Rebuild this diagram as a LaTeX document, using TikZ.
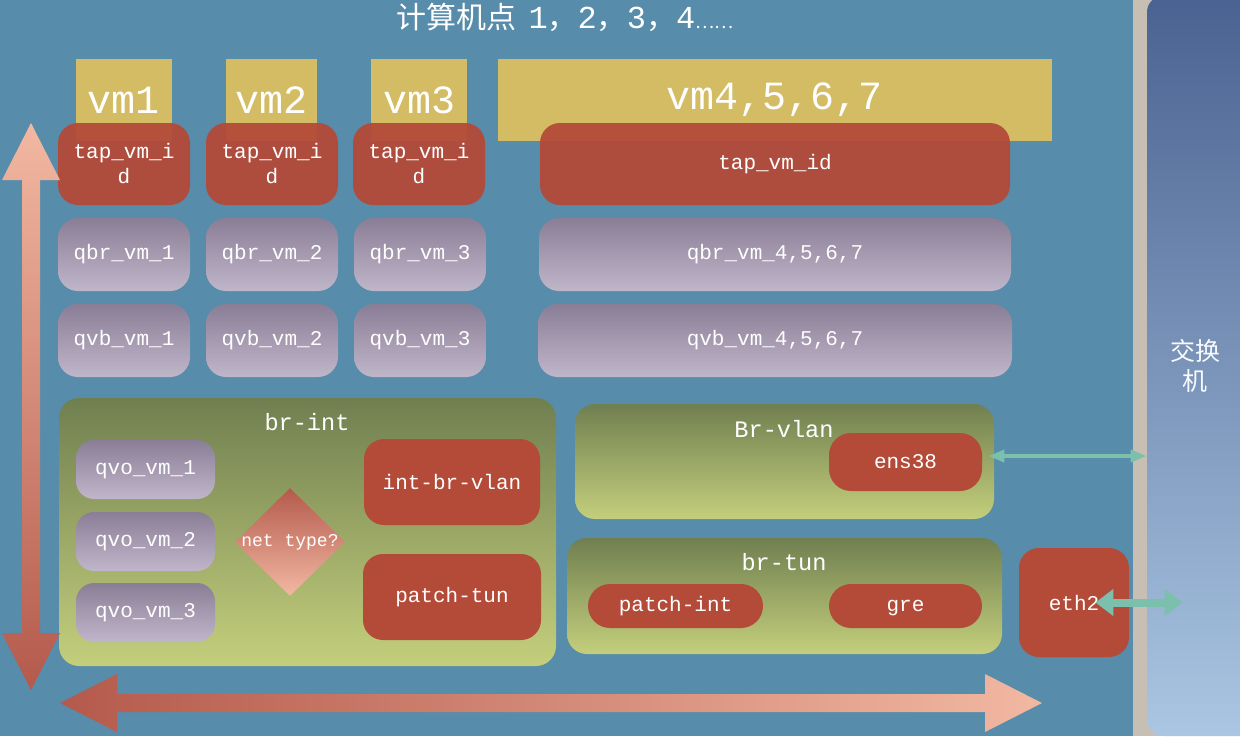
\documentclass[tikz,border=0pt]{standalone}
\usepackage{fontspec}
\setmonofont{Liberation Mono}
\newfontfamily\cjk{Noto Sans CJK SC}
\usetikzlibrary{shapes.geometric,arrows.meta,positioning}
\definecolor{mybg}{RGB}{87,140,170}
\definecolor{myyellow}{RGB}{212,188,100}
\definecolor{myred}{RGB}{180,74,56}
\definecolor{mygraytop}{RGB}{138,126,150}
\definecolor{mygraybot}{RGB}{192,182,202}
\definecolor{mygreentop}{RGB}{112,127,80}
\definecolor{mygreenbot}{RGB}{196,207,124}
\definecolor{mybeige}{RGB}{200,191,180}
\definecolor{myswitchtop}{RGB}{74,98,145}
\definecolor{myswitchbot}{RGB}{170,198,226}
\definecolor{myteal}{RGB}{122,192,172}
\definecolor{mypinklight}{RGB}{242,184,162}
\definecolor{mypinkdark}{RGB}{180,90,76}
\newcommand{\vmfont}{\ttfamily\fontsize{20}{24}\selectfont}
\newcommand{\portfont}{\ttfamily\fontsize{10.5}{12.5}\selectfont}
\newcommand{\brfont}{\ttfamily\fontsize{11.8}{14}\selectfont}

\begin{document}
\begin{tikzpicture}[
  x=0.5pt, y=-0.5pt,
  mybox/.style={
    draw=none,
    text=white,
    inner sep=0pt,
    align=center,
    font=\portfont
    },
  vmbox/.style={
    mybox,
    fill=myyellow,
    minimum height=41pt,
    font=\vmfont
    },
  tapbox/.style={
    mybox,
    fill=myred,
    fill opacity=0.94,
    text opacity=1,
    rounded corners=10pt,
    minimum height=41pt
    },
  qbox/.style={
    mybox,
    top color=mygraytop,
    bottom color=mygraybot,
    rounded corners=10pt,
    minimum height=36.5pt
    },
  bridge/.style={
    mybox,
    top color=mygreentop,
    bottom color=mygreenbot,
    rounded corners=10pt
    },
  port/.style={
    mybox,
    fill=myred,
    rounded corners=#1
    },
  port/.default=11pt,
  brlabel/.style={
    text=white,
    inner sep=0pt,
    font=\brfont
    },
  link/.style={
    myteal,
    line width=#1
    }
]

\useasboundingbox (0,0) rectangle (1240,736);
\clip (0,0) rectangle (1240,736);
\fill[mybg] (0,0) rectangle (1240,736);
\fill[mybeige] (1133,0) rectangle (1240,736);

% switch panel
\node[mybox, top color=myswitchtop, bottom color=myswitchbot, rounded corners=8pt,
  minimum width=56pt, minimum height=370pt] (switch) at (1203,366) {};
\node[text=white!92!myswitchbot, inner sep=0pt, align=center,
  font=\cjk\fontsize{12.5}{15}\selectfont] (switchlbl) at (1195,366) {交换\\机};

% title
\node[text=white, inner sep=0pt, font=\cjk\fontsize{15}{18}\selectfont] (title) at (565,17)
  {计算机点\hspace{6pt}{\ttfamily\fontsize{16}{18}\selectfont 1}，{\ttfamily\fontsize{16}{18}\selectfont 2}，{\ttfamily\fontsize{16}{18}\selectfont 3}，{\ttfamily\fontsize{16}{18}\selectfont 4}{\fontsize{9}{18}\selectfont ……}};

% vms
\node[vmbox, minimum width=48pt]  (vm1)  at (124,100)   {vm1};
\node[vmbox, minimum width=45.5pt](vm2)  at (271.5,100) {vm2};
\node[vmbox, minimum width=48pt]  (vm3)  at (419,100)   {vm3};
\node[vmbox, minimum width=277pt] (vm4)  at (775,100)   {vm4,5,6,7};

% tap / qbr / qvb
\node[tapbox, minimum width=66pt]  (tap1) at (124,164) {tap\_vm\_i\\d};
\node[tapbox, minimum width=66pt]  (tap2) at (272,164) {tap\_vm\_i\\d};
\node[tapbox, minimum width=66pt]  (tap3) at (419,164) {tap\_vm\_i\\d};
\node[tapbox, minimum width=235pt] (tap4) at (775,164) {tap\_vm\_id};

\foreach \Vm/\Xpos in {1/124, 2/272, 3/420}
{
  \node[qbox, minimum width=66pt] (qbr\Vm) at (\Xpos,254.5) {qbr\_vm\_\Vm};
  \node[qbox, minimum width=66pt] (qvb\Vm) at (\Xpos,340.5) {qvb\_vm\_\Vm};
}
\node[qbox, minimum width=236pt] (qbr4) at (775,254.5) {qbr\_vm\_4,5,6,7};
\node[qbox, minimum width=237pt] (qvb4) at (775,340.5) {qvb\_vm\_4,5,6,7};

% br-int
\node[bridge, minimum width=248.5pt, minimum height=134pt] (brint) at (307.5,532) {};
\node[brlabel] (brintlbl) at (307,422) {br-int};
\foreach \Vm/\Ypos in {1/469.5, 2/541.5, 3/612.5}
  \node[qbox, minimum width=69.5pt, minimum height=29.5pt, rounded corners=9pt]
    (qvo\Vm) at (145.5,\Ypos) {qvo\_vm\_\Vm};
\node[diamond, draw=none, inner sep=0pt, minimum width=55pt, minimum height=54pt,
  top color=mypinkdark, bottom color=mypinklight] (nettype) at (290,542) {};
\node[text=white, inner sep=0pt, font=\ttfamily\fontsize{9}{11}\selectfont]
  (nettypelbl) at (nettype.center) {net type?};
\node[port=10pt, minimum width=88pt, minimum height=43pt] (intbrvlan) at (452,482) {int-br-vlan};
\node[port=10pt, minimum width=89pt, minimum height=43pt] (patchtun)  at (452,597) {patch-tun};

% Br-vlan
\node[bridge, minimum width=209.5pt, minimum height=57.5pt] (brvlan) at (784.5,461.5) {};
\node[brlabel] (brvlanlbl) at (784,429) {Br-vlan};
\node[port=11pt, minimum width=76.5pt, minimum height=29pt] (ens38) at (905.5,462) {ens38};

% br-tun
\node[bridge, minimum width=217.5pt, minimum height=58pt] (brtun) at (784.5,596) {};
\node[brlabel] (brtunlbl) at (784,562) {br-tun};
\node[port=11pt, minimum width=87.5pt, minimum height=22pt] (patchint) at (675.5,606) {patch-int};
\node[port=11pt, minimum width=76.5pt, minimum height=22pt] (gre)      at (905.5,606) {\strut gre};

% eth2
\node[port=10pt, minimum width=55pt, minimum height=54.5pt] (eth2) at (1074,602.5) {eth2};

% links to the switch
\draw[link=2pt, {Triangle[length=8pt,width=6pt]}-{Triangle[length=8pt,width=6pt]}, shorten <=3pt]
  ([yshift=3pt]ens38.east) -- ([yshift=3pt]ens38.east -| switch.west);
\draw[link=4pt, {Triangle[length=9pt,width=13pt]}-{Triangle[length=9pt,width=13pt]}]
  ([xshift=-17pt]eth2.east) -- ([xshift=18pt]eth2.east -| switch.west);

% big arrows
\shade[top color=mypinklight, bottom color=mypinkdark]
  (31,123) -- (60,180) -- (40,180) -- (40,633) -- (60,633) -- (31,690)
  -- (2,633) -- (22,633) -- (22,180) -- (2,180) -- cycle;
\shade[left color=mypinkdark, right color=mypinklight]
  (60,703) -- (117,674) -- (117,694) -- (985,694) -- (985,674) -- (1042,703)
  -- (985,732) -- (985,712) -- (117,712) -- (117,732) -- cycle;

\end{tikzpicture}
\end{document}
